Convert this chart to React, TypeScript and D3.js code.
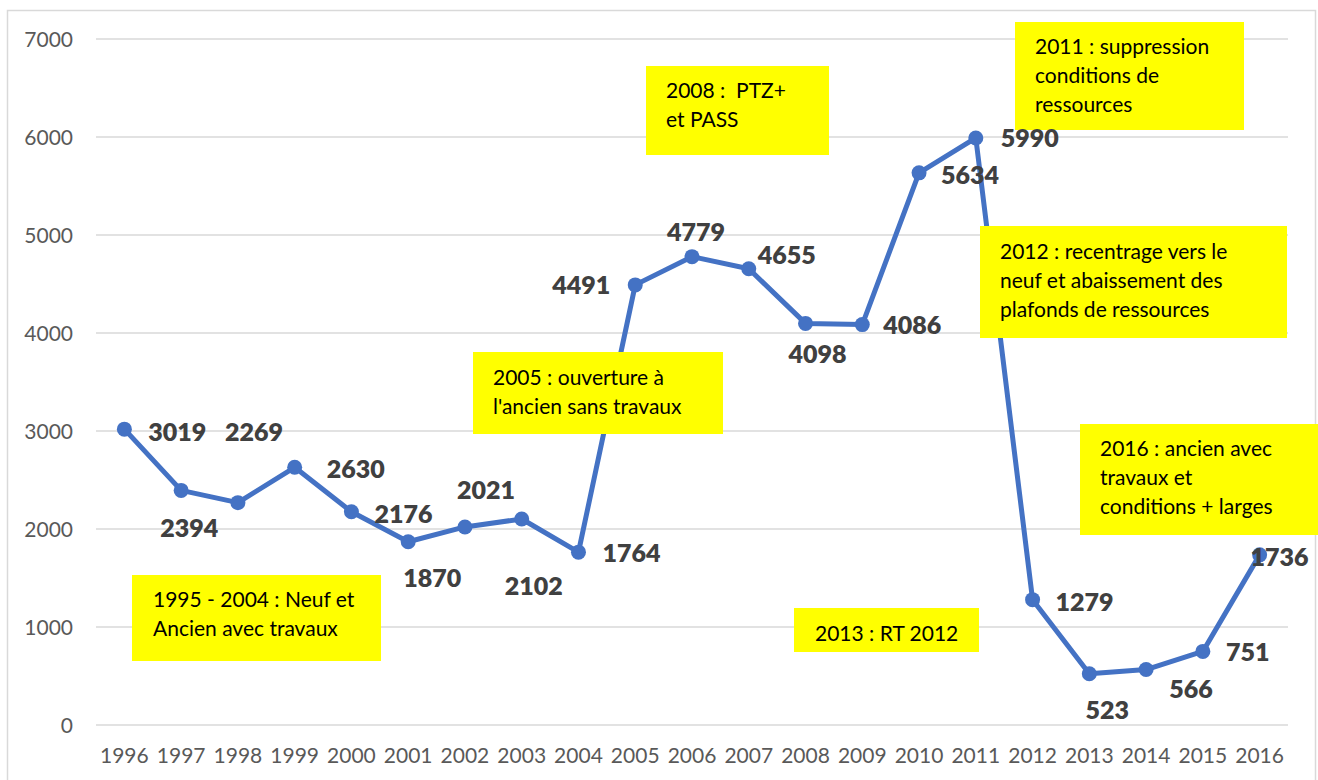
import React, { useEffect, useRef } from "react";
import * as d3 from "d3";

// years on the category axis
const years = [
  "1996", "1997", "1998", "1999", "2000", "2001", "2002", "2003", "2004", "2005", "2006",
  "2007", "2008", "2009", "2010", "2011", "2012", "2013", "2014", "2015", "2016",
];

// number of loans per year
const values = [
  3019, 2394, 2269, 2630, 2176, 1870, 2021, 2102, 1764, 4491, 4779,
  4655, 4098, 4086, 5634, 5990, 1279, 523, 566, 751, 1736,
];

const yTicks = [0, 1000, 2000, 3000, 4000, 5000, 6000, 7000];

// label placement relative to each point (dx, dy of the label centre)
const labelOffsets: [number, number][] = [
  [53, 3], [8, 38], [16, -71], [61, 2], [52, 2], [24, 36], [21, -37], [12, 67], [53, 1], [-54, 0], [4, -25],
  [38, -14], [12, 31], [50, 0], [51, 2], [54, 0], [52, 2], [18, 36], [45, 19], [45, 1], [20, 2],
];

// annotation texts
const notes = [
  ["1995 - 2004 : Neuf et", "Ancien avec travaux"],
  ["2005 : ouverture à", "l'ancien sans travaux"],
  ["2008 :  PTZ+", "et PASS"],
  ["2011 : suppression", "conditions de", "ressources"],
  ["2012 : recentrage vers le", "neuf et abaissement des", "plafonds de ressources"],
  ["2013 : RT 2012"],
  ["2016 : ancien avec", "travaux et", "conditions + larges"],
];

// box geometry for the notes: x, y, w, h, text x, first baseline
const noteBoxes = [
  [132, 575, 249, 86, 153, 607],
  [473, 352, 250, 82, 493, 385],
  [646, 66, 183, 89, 666, 98],
  [1015, 22, 229, 108, 1035, 54],
  [980, 226, 307, 112, 1000, 259],
  [794, 608, 185, 44, 815, 641],
  [1080, 424, 240, 111, 1100, 456],
];

function Chart() {
  const ref = useRef<SVGSVGElement>(null);

  useEffect(() => {
    const svg = d3.select(ref.current);
    svg.selectAll("*").remove();

    const left = 96;
    const right = 1288;

    const x = d3.scalePoint().domain(years).range([left, right]).padding(0.5);
    const y = d3.scaleLinear().domain([0, 7000]).range([725, 39]);

    // chart border
    svg.append("rect")
      .attr("x", 7.5).attr("y", 10.5)
      .attr("width", 1308).attr("height", 800)
      .attr("fill", "#fff")
      .attr("stroke", "#d9d9d9")
      .attr("stroke-width", 1.5);

    // gridlines
    svg.append("g")
      .selectAll("line")
      .data(yTicks)
      .join("line")
      .attr("x1", left).attr("x2", right)
      .attr("y1", (d) => y(d)).attr("y2", (d) => y(d))
      .attr("stroke", "#d9d9d9")
      .attr("stroke-width", 1.5);

    // y axis labels
    svg.append("g")
      .selectAll("text")
      .data(yTicks)
      .join("text")
      .attr("x", 73)
      .attr("y", (d) => y(d) + 8)
      .attr("text-anchor", "end")
      .attr("font-family", "Lato, sans-serif")
      .attr("font-size", 21)
      .attr("fill", "#595959")
      .text((d) => d);

    // x axis labels
    svg.append("g")
      .selectAll("text")
      .data(years)
      .join("text")
      .attr("x", (d) => x(d)!)
      .attr("y", 763)
      .attr("text-anchor", "middle")
      .attr("font-family", "Lato, sans-serif")
      .attr("font-size", 21)
      .attr("fill", "#595959")
      .text((d) => d);

    // the line
    const line = d3.line<number>()
      .x((d, i) => x(years[i])!)
      .y((d) => y(d));

    svg.append("path")
      .datum(values)
      .attr("d", line)
      .attr("fill", "none")
      .attr("stroke", "#4472c4")
      .attr("stroke-width", 5)
      .attr("stroke-linejoin", "round");

    svg.append("g")
      .selectAll("circle")
      .data(values)
      .join("circle")
      .attr("cx", (d, i) => x(years[i])!)
      .attr("cy", (d) => y(d))
      .attr("r", 7.5)
      .attr("fill", "#4472c4");

    // yellow notes
    const note = svg.append("g")
      .selectAll("g")
      .data(notes)
      .join("g");

    note.append("rect")
      .attr("x", (d, i) => noteBoxes[i][0])
      .attr("y", (d, i) => noteBoxes[i][1])
      .attr("width", (d, i) => noteBoxes[i][2])
      .attr("height", (d, i) => noteBoxes[i][3])
      .attr("fill", "#ffff00");

    note.each(function (lines, i) {
      const b = noteBoxes[i];
      d3.select(this)
        .selectAll("text")
        .data(lines)
        .join("text")
        .attr("x", b[4])
        .attr("y", (d, j) => b[5] + j * 29)
        .attr("font-family", "Lato, sans-serif")
        .attr("font-size", 21)
        .attr("fill", "#000")
        .attr("xml:space", "preserve")
        .text((d) => d);
    });

    // data labels
    svg.append("g")
      .selectAll("text")
      .data(values)
      .join("text")
      .attr("x", (d, i) => x(years[i])! + labelOffsets[i][0])
      .attr("y", (d, i) => y(d) + labelOffsets[i][1] + 9)
      .attr("text-anchor", "middle")
      .attr("font-family", "Lato, sans-serif")
      .attr("font-weight", 800)
      .attr("font-size", 25)
      .attr("fill", "#404040")
      .text((d) => d);
  }, []);

  return (
    <svg
      ref={ref}
      width={1318}
      height={780}
      style={{ position: "absolute", left: 0, top: 0, background: "#fff" }}
    />
  );
}

export default function App() {
  return <Chart />;
}
